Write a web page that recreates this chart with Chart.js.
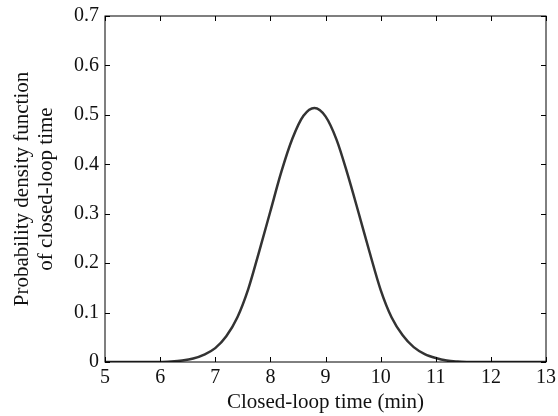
<!DOCTYPE html>
<html>
<head>
<meta charset="utf-8">
<script src="https://cdn.jsdelivr.net/npm/chart.js@4"></script>
<style>
  html, body { margin: 0; padding: 0; background: #fff; }
  canvas { display: block; }
</style>
</head>
<body>
<canvas id="pdfChart" width="558" height="416"></canvas>
<script>
// 闭环时间 (min) 和概率密度
const timeValues = [5.0, 5.4, 5.8, 6.0, 6.2, 6.4, 6.6, 6.8, 7.0, 7.2, 7.4, 7.6, 7.8, 8.0, 8.2, 8.4, 8.6, 8.8,
                    9.0, 9.2, 9.4, 9.6, 9.8, 10.0, 10.2, 10.4, 10.6, 10.8, 11.0, 11.2, 11.4, 11.6, 12.0, 12.5, 13.0];
const densityValues = [0, 0, 0, 0.000, 0.001, 0.003, 0.007, 0.015, 0.028, 0.052, 0.090, 0.148, 0.225, 0.305, 0.385, 0.452, 0.498, 0.514,
                       0.497, 0.450, 0.380, 0.302, 0.222, 0.146, 0.090, 0.054, 0.030, 0.016, 0.008, 0.003, 0.001, 0, 0, 0, 0];
const xTicks = [5, 6, 7, 8, 9, 10, 11, 12, 13];
const yTicks = [0, 0.1, 0.2, 0.3, 0.4, 0.5, 0.6, 0.7];

const serif = "'Liberation Serif', 'DejaVu Serif', serif";

// 边框 + 向内的刻度线（四边）
const frameTicks = {
    id: 'frameTicks',
    afterDraw(chart) {
        const { ctx, chartArea: a, scales } = chart;
        const len = 5;
        ctx.save();
        ctx.strokeStyle = '#000';
        ctx.lineWidth = 1;
        ctx.strokeRect(a.left, a.top, a.right - a.left, a.bottom - a.top);
        ctx.beginPath();
        scales.x.ticks.forEach(t => {
            const px = Math.round(scales.x.getPixelForValue(t.value)) + 0.5;
            ctx.moveTo(px, a.bottom); ctx.lineTo(px, a.bottom - len);
            ctx.moveTo(px, a.top); ctx.lineTo(px, a.top + len);
        });
        scales.y.ticks.forEach(t => {
            const py = Math.round(scales.y.getPixelForValue(t.value)) + 0.5;
            ctx.moveTo(a.left, py); ctx.lineTo(a.left + len, py);
            ctx.moveTo(a.right, py); ctx.lineTo(a.right - len, py);
        });
        ctx.stroke();
        ctx.restore();
    }
};

const ctx = document.getElementById('pdfChart').getContext('2d');
new Chart(ctx, {
    type: 'line',
    data: {
        datasets: [{
            data: timeValues.map((t, i) => ({ x: t, y: densityValues[i] })),
            borderColor: '#333333',
            borderWidth: 2.5,
            pointRadius: 0,
            fill: false,
            cubicInterpolationMode: 'monotone'
        }]
    },
    options: {
        responsive: false,
        animation: false,
        layout: { padding: { top: 16, right: 12, left: 0, bottom: 0 } },
        plugins: {
            legend: { display: false },
            tooltip: { enabled: false }
        },
        scales: {
            x: {
                type: 'linear',
                min: 5,
                max: 13,
                afterBuildTicks: s => { s.ticks = xTicks.map(v => ({ value: v })); },
                afterFit: s => { s.height = 54; s.paddingLeft = 0; s.paddingRight = 0; },
                grid: { display: false, drawTicks: false },
                border: { display: false },
                ticks: {
                    padding: 4,
                    color: '#111',
                    font: { family: serif, size: 20 },
                    callback: v => String(v)
                },
                title: {
                    display: true,
                    text: 'Closed-loop time (min)',
                    color: '#111',
                    font: { family: serif, size: 21 },
                    padding: { top: 0, bottom: 1 }
                }
            },
            y: {
                min: 0,
                max: 0.7,
                afterBuildTicks: s => { s.ticks = yTicks.map(v => ({ value: v })); },
                afterFit: s => { s.width = 105; s.paddingTop = 0; s.paddingBottom = 0; },
                grid: { display: false, drawTicks: false },
                border: { display: false },
                ticks: {
                    padding: 6,
                    color: '#111',
                    font: { family: serif, size: 20 },
                    callback: v => v === 0 ? '0' : v.toFixed(1)
                },
                title: {
                    display: true,
                    text: ['Probability density function', 'of closed-loop time'],
                    color: '#111',
                    font: { family: serif, size: 21, lineHeight: 1.15 },
                    padding: { top: 10, bottom: 0 }
                }
            }
        }
    },
    plugins: [frameTicks]
});
</script>
</body>
</html>
